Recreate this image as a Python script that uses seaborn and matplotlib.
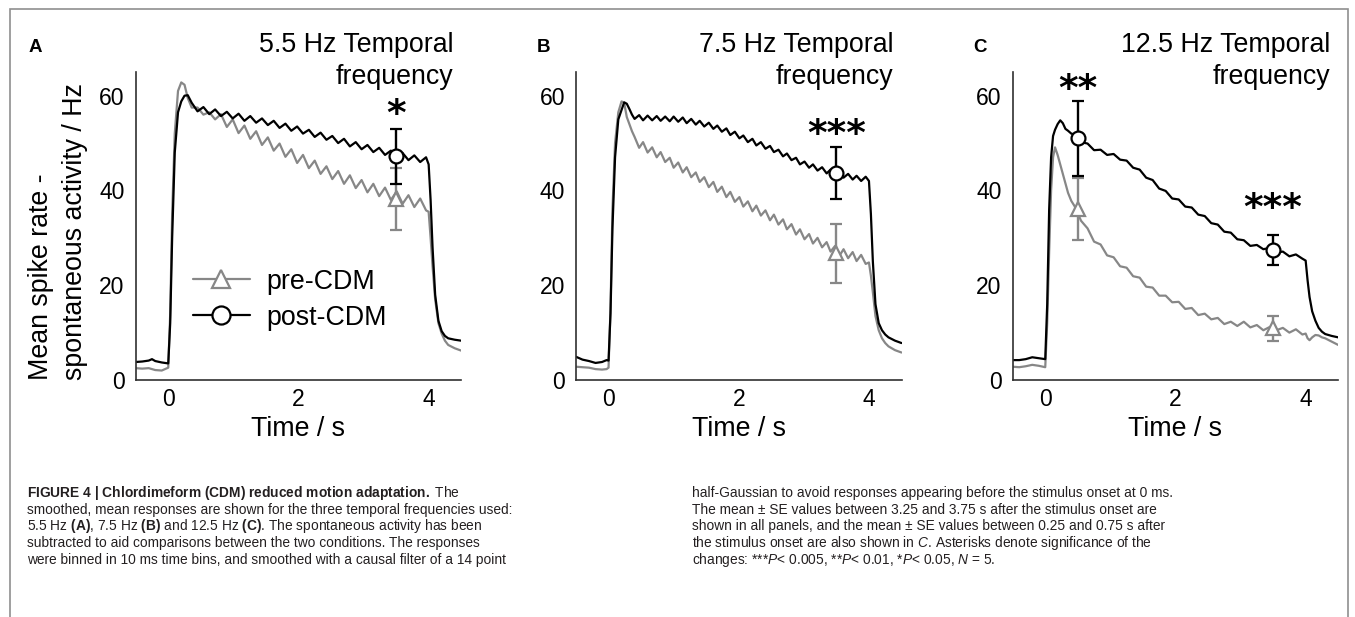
import matplotlib
matplotlib.use("Agg")
import pandas as pd
import seaborn as sns
import matplotlib.pyplot as plt
from matplotlib.lines import Line2D
from matplotlib.patches import Rectangle

sns.set_theme(style="white")
plt.rcParams['font.family'] = ['Liberation Sans', 'DejaVu Sans']
plt.rcParams['text.color'] = 'black'
plt.rcParams['axes.labelcolor'] = 'black'
plt.rcParams['mathtext.fontset'] = 'custom'
plt.rcParams['mathtext.rm'] = 'Liberation Sans'
plt.rcParams['mathtext.bf'] = 'Liberation Sans:bold'
plt.rcParams['mathtext.it'] = 'Liberation Sans:italic'

# ---- panel A, 5.5 Hz ----
time_a = [-0.5, -0.4, -0.3, -0.25, -0.2, -0.1, 0.0, 0.03, 0.06, 0.1, 0.15, 0.2, 0.25, 0.3, 0.36,
          0.45, 0.54, 0.63, 0.72, 0.81, 0.90, 0.99, 1.08, 1.17, 1.26,
          1.35, 1.44, 1.53, 1.62, 1.71, 1.80, 1.89, 1.98, 2.07, 2.16,
          2.25, 2.34, 2.43, 2.52, 2.61, 2.70, 2.79, 2.88, 2.97, 3.06,
          3.15, 3.24, 3.33, 3.42, 3.51, 3.60, 3.69, 3.78, 3.87, 3.96,
          4.0, 4.03, 4.06, 4.1, 4.15, 4.2, 4.25, 4.3, 4.4, 4.5]
pre_a = [2.5, 2.4, 2.5, 2.3, 2.1, 2.0, 2.6, 14, 35, 52, 61, 62.8, 62.3, 59.5, 57.5,
         57.5, 56.0, 56.5, 55.0, 56.1, 53.4, 55.0, 52.1, 53.7, 50.9,
         52.5, 49.6, 51.2, 48.4, 49.9, 47.1, 48.7, 45.8, 47.5, 44.7,
         46.3, 43.5, 45.1, 42.4, 44.1, 41.4, 43.2, 40.5, 42.2, 39.6,
         41.4, 38.8, 40.6, 38.0, 39.8, 37.2, 39.0, 36.5, 38.3, 35.8,
         35.5, 30, 24, 17, 12, 9.8, 8.3, 7.4, 6.7, 6.2]
post_a = [3.8, 3.9, 4.1, 4.4, 4.0, 3.7, 3.5, 12, 30, 48, 56.5, 58.8, 60.0, 60.1, 58.5,
          56.7, 57.6, 56.1, 57.1, 55.7, 56.6, 55.2, 56.2, 54.7, 55.7,
          54.3, 55.2, 53.8, 54.7, 53.2, 54.1, 52.6, 53.5, 52.0, 52.8,
          51.3, 52.2, 50.7, 51.5, 50.0, 50.9, 49.3, 50.2, 48.7, 49.6,
          48.1, 49.0, 47.5, 48.4, 46.9, 47.9, 46.4, 47.4, 46.0, 47.0,
          45.5, 38, 28, 18, 12.5, 10.3, 9.3, 8.8, 8.5, 8.3]

# ---- panel B, 7.5 Hz ----
time_b = [-0.5, -0.4, -0.3, -0.2, -0.1, -0.03, 0.0, 0.03, 0.06, 0.1, 0.15, 0.2, 0.24, 0.28, 0.32, 0.36,
          0.40, 0.47, 0.53, 0.60, 0.67, 0.74, 0.80, 0.87, 0.94, 1.00,
          1.07, 1.14, 1.20, 1.27, 1.34, 1.40, 1.47, 1.54, 1.61, 1.67,
          1.74, 1.81, 1.87, 1.94, 2.01, 2.07, 2.14, 2.21, 2.27, 2.34,
          2.41, 2.48, 2.54, 2.61, 2.68, 2.74, 2.81, 2.88, 2.94, 3.01,
          3.08, 3.14, 3.21, 3.28, 3.35, 3.41, 3.48, 3.55, 3.61, 3.68,
          3.75, 3.81, 3.88, 3.95,
          4.0, 4.03, 4.06, 4.1, 4.15, 4.2, 4.25, 4.3, 4.4, 4.5]
pre_b = [2.8, 2.7, 2.6, 2.3, 2.2, 2.3, 2.6, 15, 36, 50, 56.5, 58.8, 58.5, 55.5, 54.0, 52.5,
         51.3, 49.0, 50.2, 48.0, 49.1, 47.0, 48.1, 46.0, 46.9, 44.8,
         45.9, 43.8, 44.9, 42.8, 43.8, 41.8, 42.8, 40.7, 41.8, 39.7,
         40.8, 38.6, 39.7, 37.6, 38.6, 36.6, 37.7, 35.6, 36.8, 34.7,
         35.8, 33.7, 34.9, 32.8, 33.9, 31.8, 32.9, 30.7, 31.8, 29.7,
         30.8, 28.8, 30.0, 28.0, 29.1, 27.1, 28.3, 26.3, 27.6, 25.7,
         27.0, 25.1, 26.4, 24.5,
         24.8, 22, 18.5, 13.5, 10.5, 8.8, 7.8, 7.1, 6.3, 5.8]
post_b = [4.9, 4.3, 4.0, 3.6, 3.8, 4.2, 4.1, 14, 32, 47, 55, 57.0, 58.6, 58.3, 57.2, 56.0,
          55.1, 55.9, 54.8, 55.8, 54.8, 55.7, 54.7, 55.6, 54.6, 55.6,
          54.5, 55.4, 54.2, 55.1, 53.9, 54.7, 53.5, 54.3, 53.0, 53.7,
          52.4, 53.1, 51.7, 52.4, 51.0, 51.6, 50.2, 50.9, 49.5, 50.2,
          48.8, 49.4, 48.1, 48.6, 47.2, 47.8, 46.4, 46.9, 45.5, 46.1,
          44.8, 45.5, 44.2, 44.9, 43.6, 44.4, 43.2, 43.9, 42.7, 43.5,
          42.3, 43.1, 42.0, 42.9,
          42.0, 35, 25, 16, 12, 10.5, 9.6, 9.0, 8.3, 7.8]

# ---- panel C, 12.5 Hz ----
time_c = [-0.5, -0.4, -0.3, -0.2, -0.1, 0.0, 0.03, 0.06, 0.09, 0.12, 0.15, 0.19, 0.23, 0.27, 0.31, 0.35, 0.4,
          0.45, 0.55, 0.65, 0.75, 0.85, 0.95, 1.05, 1.15, 1.25, 1.35,
          1.45, 1.55, 1.65, 1.75, 1.85, 1.95, 2.05, 2.15, 2.25, 2.35,
          2.45, 2.55, 2.65, 2.75, 2.85, 2.95, 3.05, 3.15, 3.25, 3.35,
          3.45, 3.55, 3.65, 3.75, 3.85, 3.95,
          4.0, 4.03, 4.06, 4.1, 4.15, 4.2, 4.25, 4.3, 4.4, 4.5]
pre_c = [2.8, 2.7, 2.9, 3.2, 3.0, 2.7, 12, 27, 40, 47, 49.1, 47.5, 45.5, 43.5, 41.5, 39.5, 37.8,
         36.7, 33.6, 32.0, 29.2, 28.6, 26.3, 25.9, 24.0, 23.7, 21.9,
         21.6, 19.7, 19.5, 17.8, 17.8, 16.4, 16.5, 15.0, 15.2, 13.7,
         14.0, 12.8, 13.1, 11.8, 12.3, 11.4, 12.3, 11.1, 11.6, 10.5,
         11.2, 10.5, 11.0, 10.0, 10.7, 9.6,
         9.8, 8.8, 8.4, 9.0, 9.5, 9.4, 9.0, 8.8, 8.1, 7.4]
post_c = [4.2, 4.2, 4.4, 4.8, 4.6, 4.4, 16, 36, 47, 51.5, 52.8, 54.0, 54.8, 54.2, 53.0, 52.6, 52.0,
          51.8, 50.2, 49.9, 48.5, 48.6, 47.5, 47.7, 46.5, 46.3, 44.8,
          44.4, 42.7, 42.2, 40.4, 39.9, 38.3, 38.1, 36.6, 36.4, 34.9,
          34.6, 33.1, 32.8, 31.3, 31.1, 29.7, 29.5, 28.3, 28.5, 27.6,
          27.9, 26.9, 27.1, 26.1, 26.5, 25.6,
          25.2, 21, 17.5, 14.5, 12.5, 11.0, 10.2, 9.7, 9.3, 9.0]

# mean +- SE points and significance stars
se_time_a = [3.5]
pre_mean_a, pre_se_a = [38.2], [6.6]
post_mean_a, post_se_a = [47.2], [5.8]
stars_a = ["*"]
star_y_a = [56.0]

se_time_b = [3.5]
pre_mean_b, pre_se_b = [26.7], [6.3]
post_mean_b, post_se_b = [43.6], [5.5]
stars_b = ["***"]
star_y_b = [51.8]

se_time_c = [0.5, 3.5]
pre_mean_c, pre_se_c = [36.1, 10.9], [6.5, 2.6]
post_mean_c, post_se_c = [51.0, 27.4], [7.9, 3.1]
stars_c = ["**", "***"]
star_y_c = [61.3, 36.0]

panel_letters = ["A", "B", "C"]
panel_titles = ["5.5 Hz Temporal\nfrequency", "7.5 Hz Temporal\nfrequency", "12.5 Hz Temporal\nfrequency"]

GREY = "#878787"
W, H = 1355, 617
FS = 19.3

fig = plt.figure(figsize=(W / 100, H / 100), dpi=100)
fig.patch.set_facecolor("white")

# outer frame of the figure
fig.add_artist(Rectangle((9.5 / W, -0.1), (1348 - 9.5) / W, 1.1 - 9 / H, transform=fig.transFigure,
                         fill=False, ec="#8f8f8f", lw=1.2))

lefts = [135.7, 576.0, 1012.7]
panels = [
    (time_a, pre_a, post_a, se_time_a, pre_mean_a, pre_se_a, post_mean_a, post_se_a, stars_a, star_y_a),
    (time_b, pre_b, post_b, se_time_b, pre_mean_b, pre_se_b, post_mean_b, post_se_b, stars_b, star_y_b),
    (time_c, pre_c, post_c, se_time_c, pre_mean_c, pre_se_c, post_mean_c, post_se_c, stars_c, star_y_c),
]
letter_x = [29, 537, 973]

for i, (t, pre, post, st, pm, ps, qm, qs, stars, sy) in enumerate(panels):
    ax = fig.add_axes([lefts[i] / W, 1 - 380 / H, 325.5 / W, 308 / H])
    df = pd.concat([
        pd.DataFrame({"time": t, "rate": pre, "condition": "pre-CDM"}),
        pd.DataFrame({"time": t, "rate": post, "condition": "post-CDM"}),
    ])
    sns.lineplot(data=df, x="time", y="rate", hue="condition",
                 hue_order=["pre-CDM", "post-CDM"],
                 palette={"pre-CDM": GREY, "post-CDM": "black"},
                 estimator=None, errorbar=None, linewidth=1.6, legend=False, ax=ax)
    ax.errorbar(st, pm, yerr=ps, fmt="^", color=GREY, ms=10.5, mfc="white", mec=GREY, mew=1.6,
                elinewidth=1.7, capsize=4.5, capthick=1.7, zorder=4)
    ax.errorbar(st, qm, yerr=qs, fmt="o", color="black", ms=10, mfc="white", mec="black", mew=1.6,
                elinewidth=1.7, capsize=4.5, capthick=1.7, zorder=5)
    for x, y, s in zip(st, sy, stars):
        ax.text(x, y, s, ha="center", va="center", fontsize=27, fontweight="bold",
                family="DejaVu Sans")

    ax.set_xlim(-0.5, 4.5)
    ax.set_ylim(0, 65)
    ax.set_xticks([0, 2, 4])
    ax.set_yticks([0, 20, 40, 60])
    ax.set_facecolor("white")
    for side in ["top", "right"]:
        ax.spines[side].set_visible(False)
    for side in ["left", "bottom"]:
        ax.spines[side].set_color("#303030")
        ax.spines[side].set_linewidth(1.2)
    ax.tick_params(direction="in", length=3, width=1, colors="#303030", labelcolor="black",
                   labelsize=16.5)
    ax.tick_params(axis="x", pad=6)
    ax.tick_params(axis="y", pad=8)
    ax.set_xlabel("Time / s", fontsize=FS, labelpad=3)
    ax.set_ylabel("")
    ax.text(0.975, 1.13, panel_titles[i], transform=ax.transAxes, ha="right", va="top",
            multialignment="right", fontsize=FS, linespacing=1.28)
    fig.text(letter_x[i] / W, 1 - 47 / H, panel_letters[i], fontsize=13.5, fontweight="bold",
             ha="left", va="center")

    if i == 0:
        handles = [
            Line2D([], [], color=GREY, lw=1.6, marker="^", ms=13, mfc="white", mec=GREY, mew=1.6),
            Line2D([], [], color="black", lw=1.6, marker="o", ms=13, mfc="white", mec="black", mew=1.6),
        ]
        ax.legend(handles, ["pre-CDM", "post-CDM"], loc="center left", bbox_to_anchor=(0.176, 0.261),
                  frameon=False, fontsize=FS, handlelength=2.12, handletextpad=0.63,
                  labelspacing=0.38, borderaxespad=0, borderpad=0)

fig.text(58 / W, 1 - 380 / H, "Mean spike rate -\nspontaneous activity / Hz", rotation=90,
         ha="center", va="bottom", multialignment="left", fontsize=FS, linespacing=1.35)

# caption
cap_left = [
    r"$\mathbf{FIGURE\ 4\ |\ Chlordimeform\ (CDM)\ reduced\ motion\ adaptation.}$ The",
    "smoothed, mean responses are shown for the three temporal frequencies used:",
    r"5.5 Hz $\mathbf{(A)}$, 7.5 Hz $\mathbf{(B)}$ and 12.5 Hz $\mathbf{(C)}$. The spontaneous activity has been",
    "subtracted to aid comparisons between the two conditions. The responses",
    "were binned in 10 ms time bins, and smoothed with a causal filter of a 14 point",
]
cap_right = [
    "half-Gaussian to avoid responses appearing before the stimulus onset at 0 ms.",
    "The mean \u00b1 SE values between 3.25 and 3.75 s after the stimulus onset are",
    "shown in all panels, and the mean \u00b1 SE values between 0.25 and 0.75 s after",
    r"the stimulus onset are also shown in $\mathit{C}$. Asterisks denote significance of the",
    r"changes: ***$\mathit{P}$< 0.005, **$\mathit{P}$< 0.01, *$\mathit{P}$< 0.05, $\mathit{N}$ = 5.",
]
for col_x, lines in [(27, cap_left), (692, cap_right)]:
    for k, line in enumerate(lines):
        fig.text(col_x / W, 1 - (497 + 16.7 * k) / H, line, fontsize=9.95, va="baseline",
                 ha="left", family=["Liberation Sans", "DejaVu Sans"], color="#231f20")

fig.savefig("out.png", dpi=100, facecolor="white")
